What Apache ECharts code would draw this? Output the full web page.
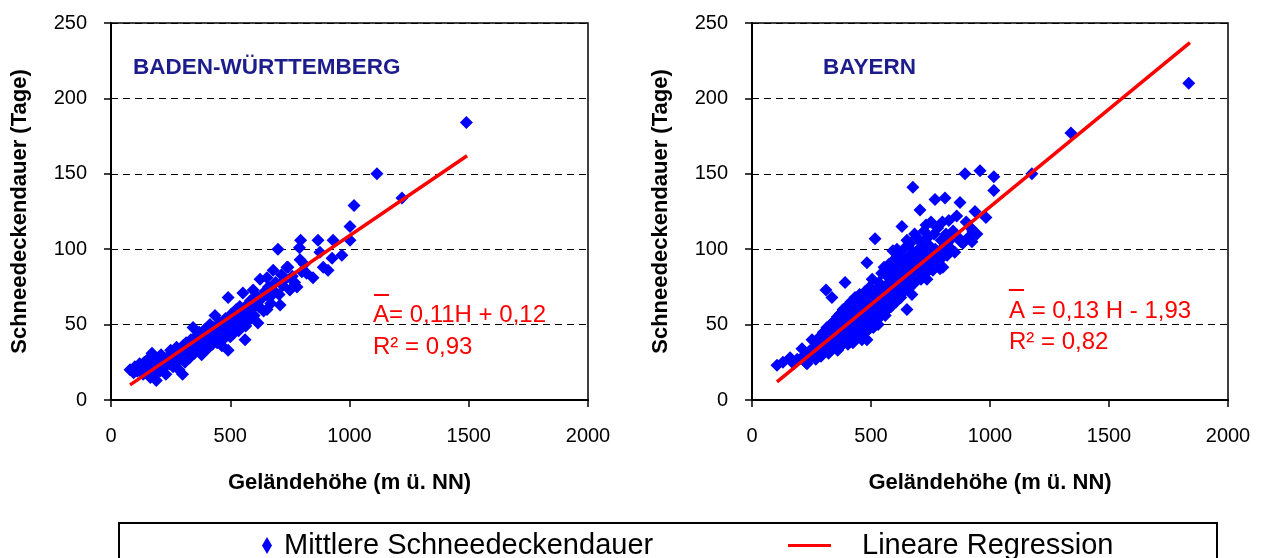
<!DOCTYPE html>
<html>
<head>
<meta charset="utf-8">
<title>Schneedeckendauer</title>
<style>
	html, body { margin: 0; padding: 0; background: #fff; }
	#chart { width: 1265px; height: 558px; }
</style>
</head>
<body>
<div id="chart"></div>
<script src="https://cdn.jsdelivr.net/npm/echarts@6/dist/echarts.min.js"></script>
<script>
	// Geländehöhe (m), Schneedeckendauer (Tage)
	var bwPoints = [
		[80,20],[95,18],[100,22],[110,19],[120,24],[125,21],[135,17],[140,25],[150,22],[155,27],
		[160,20],[165,15],[172,31],[175,24],[180,18],[185,28],[190,13],[195,22],[200,26],[205,19],
		[210,30],[215,24],[220,21],[225,27],[230,17],[240,29],[245,24],[250,33],[255,27],[260,22],
		[265,30],[270,25],[275,35],[280,29],[285,20],[290,32],[295,27],[300,17],[302,36],[305,30],
		[310,25],[315,38],[320,33],[330,28],[335,40],[340,35],[344,48],[350,31],[355,42],[360,37],
		[365,33],[370,45],[375,39],[380,30],[385,43],[390,36],[395,47],[400,41],[405,34],[410,39],
		[415,50],[420,44],[425,37],[430,48],[436,56],[440,42],[445,38],[450,46],[455,51],[460,43],
		[465,36],[470,49],[475,41],[480,54],[485,45],[491,33],[491,68],[495,50],[500,42],[505,57],
		[512,44],[515,53],[520,48],[525,60],[530,55],[535,46],[540,62],[545,51],[553,71],[555,57],
		[562,40],[565,49],[570,63],[575,58],[580,53],[585,66],[590,60],[596,73],[600,56],[605,64],
		[610,69],[616,51],[620,62],[625,80],[630,67],[640,59],[645,72],[654,60],[654,81],[660,75],
		[665,68],[670,64],[680,86],[685,72],[690,78],[700,100],[705,70],[709,63],[715,83],[720,76],
		[730,80],[738,88],[742,88],[750,73],[760,82],[770,78],[780,75],[790,101],[793,93],[795,106],
		[800,85],[810,90],[820,84],[847,81],[868,106],[876,98],[890,88],[910,86],[927,94],[931,106],
		[968,96],[1002,106],[1002,115],[1019,129],[1115,150],[1220,134],[1490,184]
	];
	var byPoints = [
		[105,23],[130,25],[160,28],[175,24],[190,27],[210,34],[215,29],[225,25],[231,24],[240,32],
		[245,28],[252,40],[258,35],[262,30],[268,27],[275,38],[280,33],[285,42],[290,29],[295,36],
		[298,31],[300,45],[305,39],[310,34],[311,73],[315,48],[318,42],[322,31],[325,37],[330,50],
		[333,44],[336,68],[340,40],[342,35],[345,52],[348,47],[352,38],[355,43],[358,55],[360,33],
		[363,49],[366,41],[370,57],[372,46],[375,36],[378,52],[380,44],[383,60],[386,39],[388,48],
		[391,78],[392,54],[395,42],[398,62],[400,50],[403,37],[405,45],[408,58],[410,53],[413,40],
		[415,65],[418,48],[420,56],[422,43],[424,38],[426,61],[428,51],[430,46],[433,68],[435,55],
		[438,42],[440,59],[442,49],[445,64],[447,53],[450,45],[452,70],[455,57],[457,48],[460,62],
		[462,40],[465,52],[468,66],[470,58],[472,45],[475,72],[478,55],[480,63],[483,91],[483,40],
		[485,50],[488,68],[490,60],[492,47],[495,75],[498,56],[500,65],[503,52],[505,80],[508,61],
		[510,48],[512,70],[515,58],[517,107],[520,66],[522,54],[525,74],[528,62],[530,50],[533,78],
		[535,60],[538,55],[540,70],[543,65],[545,84],[548,58],[550,72],[553,63],[555,88],[558,68],
		[560,56],[563,76],[565,66],[568,82],[570,60],[573,73],[575,90],[578,64],[580,78],[583,70],
		[585,62],[588,86],[590,75],[592,99],[595,68],[598,82],[600,72],[603,94],[605,65],[608,79],
		[609,100],[612,88],[615,70],[618,83],[620,76],[623,96],[625,68],[628,86],[630,115],[632,78],
		[635,92],[638,72],[640,84],[643,101],[645,76],[648,90],[651,106],[651,60],[655,82],[658,95],
		[660,74],[663,88],[665,104],[668,80],[670,92],[672,70],[676,141],[678,98],[680,85],[683,110],
		[685,78],[688,94],[690,88],[693,108],[693,95],[696,82],[700,100],[703,86],[706,126],[708,92],
		[710,80],[713,104],[716,96],[720,88],[723,112],[726,100],[730,84],[731,116],[735,80],[738,94],
		[740,108],[745,90],[748,102],[752,118],[755,96],[760,86],[765,110],[769,133],[770,100],[775,92],
		[780,114],[785,98],[790,93],[790,87],[795,106],[800,118],[802,88],[808,102],[811,134],[815,110],
		[820,96],[827,119],[832,106],[838,100],[845,112],[852,98],[860,122],[866,108],[874,131],[878,105],
		[886,104],[895,150],[900,118],[910,108],[920,114],[924,105],[928,112],[937,125],[945,110],[958,152],
		[983,121],[1016,148],[1016,139],[1176,150],[1340,177],[1835,210]
	];
	// Endpunkte der Regressionsgeraden
	var bwLine = [[80,10],[1493,162]];
	var byLine = [[105,12],[1840,237]];

	var regions = ['BADEN-WÜRTTEMBERG', 'BAYERN'];
	var equations = ['A= 0,11H + 0,12', 'A = 0,13 H - 1,93'];
	var rSquared = ['R² = 0,93', 'R² = 0,82'];
	var xTicks = [0, 500, 1000, 1500, 2000];
	var yTicks = [0, 50, 100, 150, 200, 250];

	var font = 'Liberation Sans, Arial, sans-serif';
	var myChart = echarts.init(document.getElementById('chart'));

	function xAxisFor(idx) {
		return {
			gridIndex: idx,
			type: 'value',
			min: xTicks[0],
			max: xTicks[xTicks.length - 1],
			interval: xTicks[1] - xTicks[0],
			name: 'Geländehöhe (m ü. NN)',
			nameLocation: 'middle',
			nameGap: 72,
			nameTextStyle: { color: '#000', fontSize: 22, fontWeight: 'bold', fontFamily: font },
			axisLine: { lineStyle: { color: '#000', width: 2 } },
			axisTick: { length: 7, lineStyle: { color: '#000', width: 1.5 } },
			axisLabel: {
				color: '#000', fontSize: 20, fontFamily: font, margin: 26,
				formatter: function(v) { return String(v); }
			},
			splitLine: { show: false }
		};
	}

	function yAxisFor(idx) {
		return {
			gridIndex: idx,
			type: 'value',
			min: yTicks[0],
			max: yTicks[yTicks.length - 1],
			interval: yTicks[1] - yTicks[0],
			name: 'Schneedeckendauer (Tage)',
			nameLocation: 'middle',
			nameGap: 80,
			nameTextStyle: { color: '#000', fontSize: 22, fontWeight: 'bold', fontFamily: font },
			axisLine: { lineStyle: { color: '#000', width: 2 } },
			axisTick: { length: 7, lineStyle: { color: '#000', width: 1.5 } },
			axisLabel: { color: '#000', fontSize: 20, fontFamily: font, margin: 24 },
			splitLine: { show: true, lineStyle: { color: '#000', width: 1, type: [7, 5] } }
		};
	}

	function scatterFor(idx, data) {
		return {
			name: 'Mittlere Schneedeckendauer',
			type: 'scatter',
			xAxisIndex: idx,
			yAxisIndex: idx,
			symbol: 'diamond',
			symbolSize: [13, 13],
			itemStyle: { color: '#0000FF', opacity: 1 },
			data: data,
			z: 2
		};
	}

	function lineFor(idx, data) {
		return {
			name: 'Lineare Regression',
			type: 'line',
			xAxisIndex: idx,
			yAxisIndex: idx,
			showSymbol: false,
			lineStyle: { color: '#FF0000', width: 3.5 },
			itemStyle: { color: '#FF0000' },
			data: data,
			z: 3
		};
	}

	function eqText(x, y, txt) {
		return {
			type: 'text',
			left: x,
			top: y,
			style: { text: txt, fill: '#FF0000', fontSize: 24, fontFamily: font }
		};
	}

	var option = {
		animation: false,
		backgroundColor: '#fff',
		textStyle: { fontFamily: font },
		grid: [
			{ left: 111, right: 677, top: 23, bottom: 158, show: true, borderColor: '#000', borderWidth: 1.5 },
			{ left: 752, right: 37, top: 23, bottom: 158, show: true, borderColor: '#000', borderWidth: 1.5 }
		],
		title: [
			{ text: regions[0], left: 133, top: 56, padding: 0, textStyle: { color: '#1C1C8C', fontSize: 22.5, fontWeight: 'bold', fontFamily: font } },
			{ text: regions[1], left: 823, top: 56, padding: 0, textStyle: { color: '#1C1C8C', fontSize: 22.5, fontWeight: 'bold', fontFamily: font } }
		],
		legend: [
			{
				data: ['Mittlere Schneedeckendauer'],
				left: 257, top: 526,
				icon: 'diamond', itemWidth: 10, itemHeight: 17,
				textStyle: { color: '#000', fontSize: 29, fontFamily: font, padding: [0, 0, 0, 7] }
			},
			{
				data: ['Lineare Regression'],
				left: 783, top: 526,
				icon: 'rect', itemWidth: 43, itemHeight: 3,
				textStyle: { color: '#000', fontSize: 29, fontFamily: font, padding: [0, 0, 0, 26] }
			}
		],
		xAxis: [xAxisFor(0), xAxisFor(1)],
		yAxis: [yAxisFor(0), yAxisFor(1)],
		series: [
			scatterFor(0, bwPoints),
			lineFor(0, bwLine),
			scatterFor(1, byPoints),
			lineFor(1, byLine)
		],
		graphic: [
			{ type: 'rect', shape: { x: 119, y: 523, width: 1098, height: 60 }, style: { fill: 'none', stroke: '#000', lineWidth: 2 } },
			{ type: 'rect', shape: { x: 374, y: 294, width: 15, height: 2 }, style: { fill: '#FF0000' } },
			eqText(373, 303, equations[0]),
			eqText(373, 335, rSquared[0]),
			{ type: 'rect', shape: { x: 1009, y: 289, width: 15, height: 2 }, style: { fill: '#FF0000' } },
			eqText(1009, 299, equations[1]),
			eqText(1009, 330, rSquared[1])
		]
	};
	myChart.setOption(option);
</script>
</body>
</html>
